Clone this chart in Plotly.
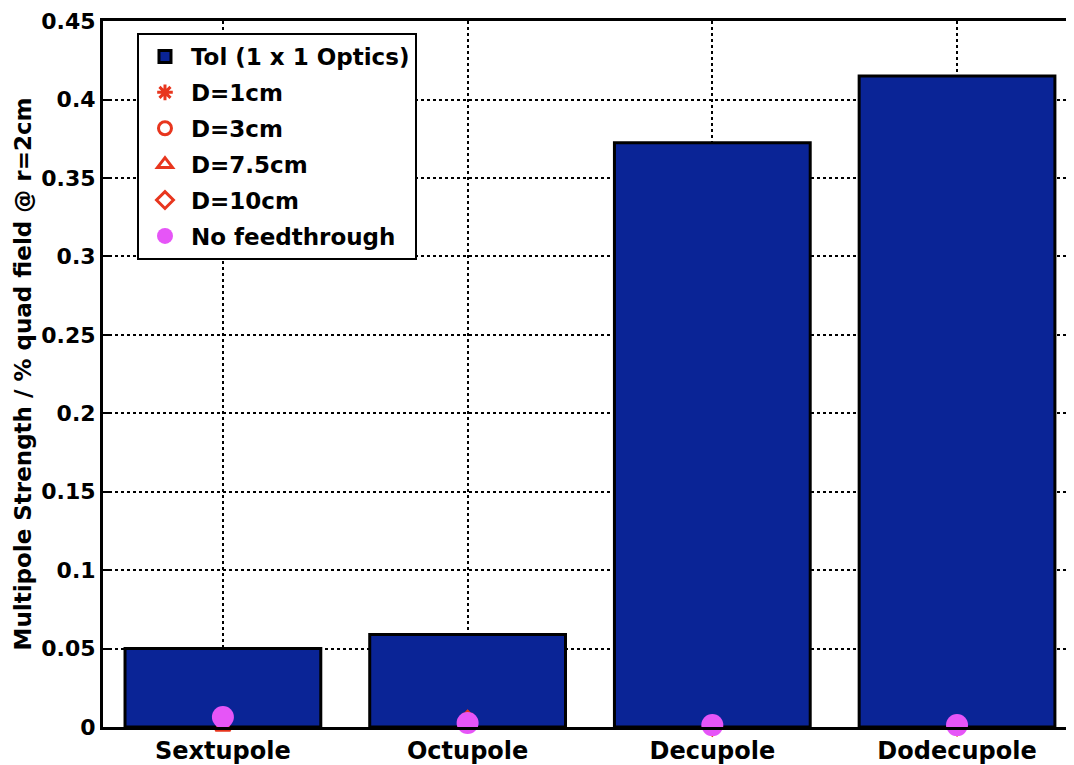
import plotly.graph_objects as go

# multipole names and tolerance values
categories = ['Sextupole', 'Octupole', 'Decupole', 'Dodecupole']
tol = [0.050, 0.059, 0.3725, 0.415]

# feedthrough cases (near zero)
d1cm = [-0.001, 0.005, 0.0003, 0.0005]
d3cm = [-0.0005, 0.004, 0.0003, 0.0004]
d75cm = [0.0, 0.0055, 0.0008, 0.0012]
d10cm = [-0.001, 0.0045, 0.0002, 0.0004]
no_ft = [0.0063, 0.0025, 0.0012, 0.0012]

yticks = [0, 0.05, 0.1, 0.15, 0.2, 0.25, 0.3, 0.35, 0.4, 0.45]
ytext = ['0', '0.05', '0.1', '0.15', '0.2', '0.25', '0.3', '0.35', '0.4', '0.45']

red = '#e8361e'
xpos = [1, 2, 3, 4]
fnt = 'DejaVu Sans, Arial, sans-serif'

fig = go.Figure()
fig.add_trace(go.Bar(x=xpos, y=tol, name='<b>Tol (1 x 1 Optics)</b>', width=0.8,
                     marker=dict(color='#0a2496', line=dict(color='black', width=3)),
                     legendgroup='a'))

markers = [('D=1cm', d1cm, 'asterisk-open', 'b'),
           ('D=3cm', d3cm, 'circle-open', 'c'),
           ('D=7.5cm', d75cm, 'triangle-up-open', 'd'),
           ('D=10cm', d10cm, 'diamond-open', 'e')]
for name, vals, sym, grp in markers:
    fig.add_trace(go.Scatter(x=xpos, y=vals, name='<b>%s</b>' % name, mode='markers',
                             marker=dict(symbol=sym, size=13, color=red,
                                         line=dict(color=red, width=3)),
                             cliponaxis=False, legendgroup=grp))

fig.add_trace(go.Scatter(x=xpos, y=no_ft, name='<b>No feedthrough</b>', mode='markers',
                         marker=dict(symbol='circle', size=22, color='#e655f7'),
                         cliponaxis=False, legendgroup='f'))

# the page body adds an 8px offset, so the figure is 8px smaller than the window
fig.update_layout(
    width=1066, height=757,
    margin=dict(l=95, r=0, t=13, b=38),
    plot_bgcolor='white', paper_bgcolor='white',
    font=dict(family=fnt, size=22, color='black'),
    bargap=0.2,
    legend=dict(x=0.035, y=0.983, xanchor='left', yanchor='top',
                bgcolor='white', bordercolor='black', borderwidth=2,
                font=dict(size=23, family=fnt),
                traceorder='grouped', tracegroupgap=3, itemwidth=42),
)
fig.update_xaxes(range=[0.51, 4.478], tickvals=xpos, automargin=False,
                 ticktext=['<b>%s</b>' % c for c in categories],
                 showline=True, linecolor='black', linewidth=3, mirror=True,
                 ticks='', showgrid=True, gridcolor='black', griddash='dot', gridwidth=2,
                 zeroline=False, tickfont=dict(size=24))
fig.update_yaxes(range=[0, 0.4501], tickvals=yticks, automargin=False,
                 ticktext=['<b>%s</b>' % t for t in ytext], ticklabeloverflow='allow',
                 showline=True, linecolor='black', linewidth=3, mirror=False,
                 ticks='inside', ticklen=8, tickwidth=2, tickcolor='black',
                 showgrid=True, gridcolor='black', griddash='dot', gridwidth=2,
                 zeroline=False, tickfont=dict(size=22),
                 title=dict(text='<b>Multipole Strength / % quad field @ r=2cm</b>',
                            font=dict(size=23), standoff=4))

fig.write_html('out.html')
